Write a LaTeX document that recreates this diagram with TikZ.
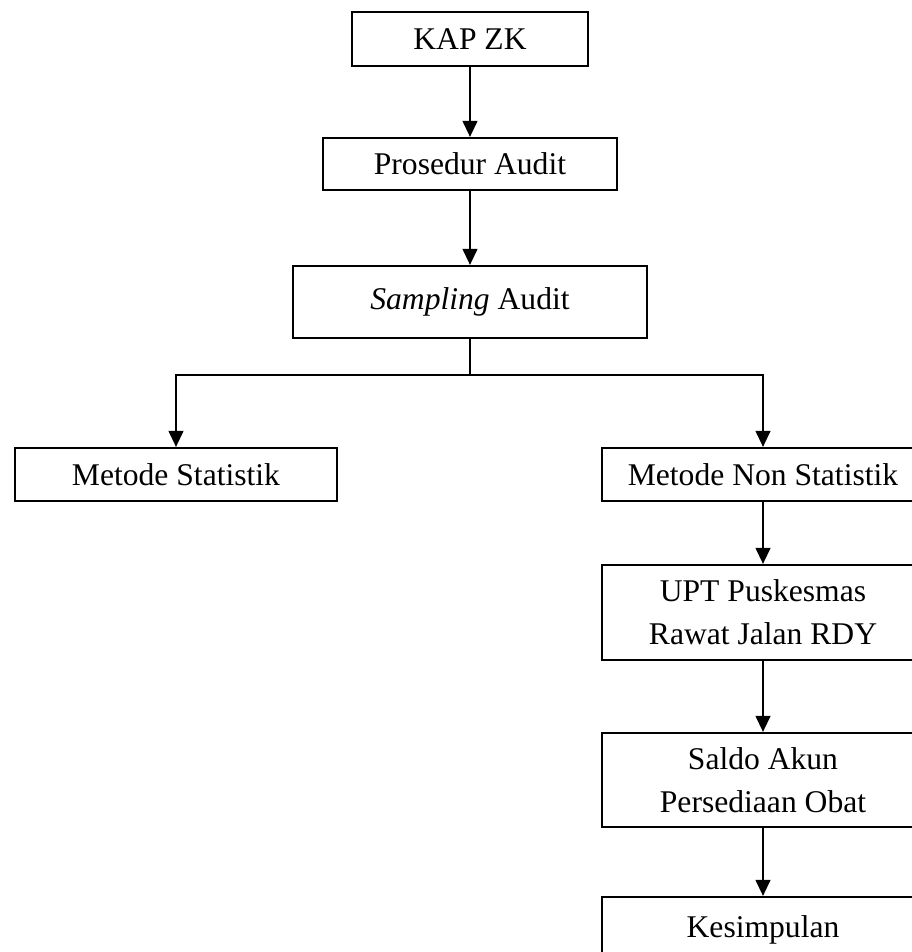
\documentclass[tikz,border=0pt]{standalone}
\usepackage{fontspec}
\setmainfont{Liberation Serif}
\usetikzlibrary{arrows.meta}
\begin{document}
\begin{tikzpicture}[x=0.75pt,y=-0.75pt,
  box/.style={draw=black,line width=1.6pt,rectangle,inner sep=0pt,align=center,
    font=\fontsize{23.7}{32}\selectfont},
  conn/.style={line width=1.6pt,-{Triangle[length=12pt,width=11pt]}},
  plain/.style={line width=1.6pt}]
\useasboundingbox (0,0) rectangle (912,952);
\clip (0,0) rectangle (912,952);
\node[box,minimum width=236*0.75pt,minimum height=54*0.75pt] (kap) at (470,39) {KAP ZK};
\node[box,minimum width=294*0.75pt,minimum height=52*0.75pt] (pros) at (470,164) {Prosedur Audit};
\node[box,minimum width=354*0.75pt,minimum height=72*0.75pt] (samp) at (470,302) {\textit{Sampling} Audit};
\node[box,minimum width=322*0.75pt,minimum height=53*0.75pt] (stat) at (176,474.5) {Metode Statistik};
\node[box,minimum width=322*0.75pt,minimum height=53*0.75pt] (nonstat) at (763,474.5) {Metode Non Statistik};
\node[box,minimum width=322*0.75pt,minimum height=95*0.75pt] (upt) at (763,612.5) {UPT Puskesmas\\Rawat Jalan RDY};
\node[box,minimum width=322*0.75pt,minimum height=94*0.75pt] (saldo) at (763,780) {Saldo Akun\\Persediaan Obat};
\node[box,minimum width=322*0.75pt,minimum height=66*0.75pt] (kes) at (763,930) {Kesimpulan};
\coordinate (j) at (470,375);
\draw[conn] (kap) -- (pros);
\draw[conn] (pros) -- (samp);
\draw[plain] (samp.south) -- (j);
\draw[conn] (j) -| (stat.north);
\draw[conn] (j) -| (nonstat.north);
\draw[conn] (nonstat) -- (upt);
\draw[conn] (upt) -- (saldo);
\draw[conn] (saldo) -- (kes);
\end{tikzpicture}
\end{document}
